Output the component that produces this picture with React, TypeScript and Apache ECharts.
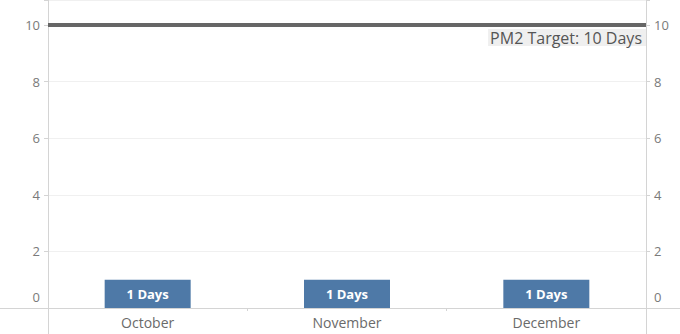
import React, { useEffect, useRef } from "react";
import * as echarts from "echarts";

const categories = ["October", "November", "December"];
const daysValues = [1, 1, 1];
const targetValue = 10;
const targetLabel = "PM2 Target: 10 Days";
const yTicks = [0, 2, 4, 6, 8, 10];

const FONT = "'Open Sans', sans-serif";

export default function App() {
  const ref = useRef<HTMLDivElement>(null);
  useEffect(() => {
    if (!ref.current) return;
    const chart = echarts.init(ref.current, undefined, { renderer: "svg" });
    const W = 680, H = 334, L = 48, R = 646, B = 308;
    const yLabel = () => ({
      show: true,
      color: "#7a7a7a",
      fontSize: 13,
      fontFamily: FONT,
      margin: 8,
      formatter: (v: number) => (yTicks.includes(v) ? (v === 0 ? "{z|0}" : String(v)) : ""),
      rich: { z: { padding: [0, 0, 22, 0], color: "#7a7a7a", fontSize: 13, fontFamily: FONT } },
    });
    const yAxisBase = {
      type: "value" as const,
      min: 0,
      max: 10.88,
      interval: 2,
      axisLine: { show: true, lineStyle: { color: "#d4d4d4", width: 1 } },
      axisTick: { show: true, length: 4, lineStyle: { color: "#d4d4d4" } },
    };
    chart.setOption({
      animation: false,
      grid: { left: L, right: W - R, top: 0, bottom: H - B, containLabel: false },
      xAxis: {
        type: "category",
        data: categories,
        axisLine: { show: true, lineStyle: { color: "#d4d4d4" } },
        axisTick: { show: true, length: 3, lineStyle: { color: "#d4d4d4" } },
        axisLabel: { color: "#6a6a6a", fontSize: 14, fontFamily: FONT, margin: 7 },
        splitLine: { show: false },
      },
      yAxis: [
        {
          ...yAxisBase,
          position: "left",
          axisLabel: yLabel(),
          splitLine: { show: true, lineStyle: { color: "#f0f0f0", width: 1 } },
        },
        {
          ...yAxisBase,
          position: "right",
          axisLabel: yLabel(),
          splitLine: { show: false },
        },
      ],
      graphic: [
        { type: "line", shape: { x1: 0, y1: B + 0.5, x2: W, y2: B + 0.5 }, style: { stroke: "#d4d4d4", lineWidth: 1 }, silent: true },
        { type: "line", shape: { x1: L + 0.5, y1: 0, x2: L + 0.5, y2: H }, style: { stroke: "#d4d4d4", lineWidth: 1 }, silent: true },
        { type: "line", shape: { x1: R + 0.5, y1: 0, x2: R + 0.5, y2: H }, style: { stroke: "#d4d4d4", lineWidth: 1 }, silent: true },
      ],
      series: [
        {
          type: "bar",
          data: daysValues,
          barWidth: 86,
          itemStyle: { color: "#4e79a7" },
          label: {
            show: true,
            position: "inside",
            formatter: (p: any) => `${p.value} Days`,
            color: "#fff",
            fontWeight: "bold",
            fontSize: 13,
            fontFamily: FONT,
          },
          markLine: {
            silent: true,
            symbol: "none",
            lineStyle: { color: "#666", width: 4, type: "solid" },
            label: {
              show: true,
              position: "insideEndBottom",
              formatter: targetLabel,
              color: "#555",
              fontSize: 16,
              fontFamily: FONT,
              backgroundColor: "#efefef",
              padding: [1, 4, 0, 2],
              distance: [0, 4],
            },
            data: [{ yAxis: targetValue }],
          },
        },
      ],
    });
    return () => chart.dispose();
  }, []);
  return <div ref={ref} style={{ width: 680, height: 334, position: "absolute", left: 0, top: 0 }} />;
}
